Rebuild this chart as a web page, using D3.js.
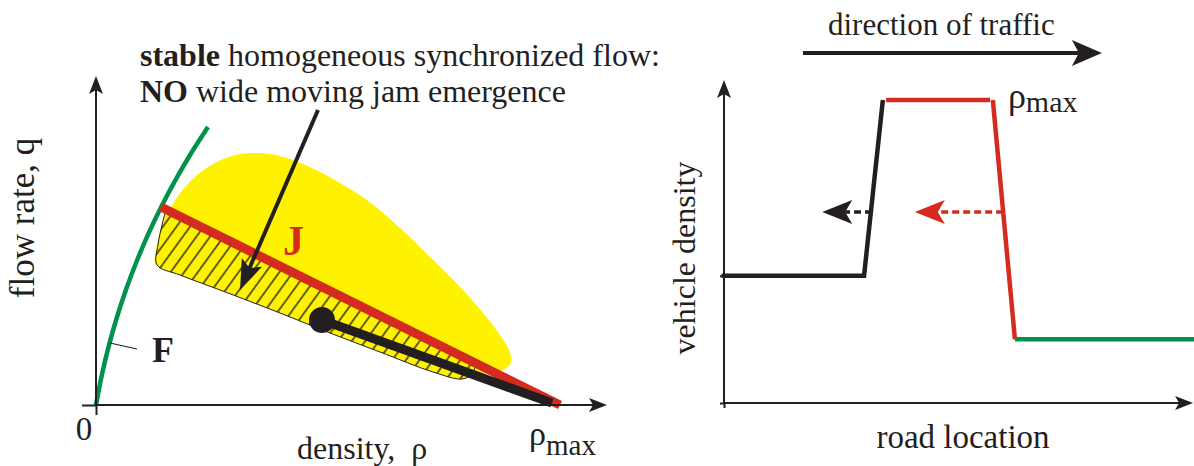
<!DOCTYPE html>
<html>
<head>
<meta charset="utf-8">
<script src="https://cdn.jsdelivr.net/npm/d3@7"></script>
<style>
  html, body { margin: 0; padding: 0; background: #fff; }
  svg { display: block; }
  text { font-family: "Liberation Serif", "Times New Roman", serif; fill: #231f20; white-space: pre; }
</style>
</head>
<body>
<svg id="chart" width="1194" height="466"></svg>
<script>
// ---------- Left panel: flow–density plane (arbitrary units) ----------
const rhoMax = 116;
// free-flow branch F
const freeFlowF = [[0,0],[1.45,14.9],[3.2,29.55],[5.25,44],[7.6,58.25],[10.25,72.25],[13.2,86.05],[16.45,99.6],
  [20,112.95],[23.85,126.1],[28,139]];
// line J (wide moving jam characteristic)
const lineJ = [[16.25,99],[rhoMax,0]];
// 2D region of synchronized flow states (yellow)
const syncRegion = [[14.75,71],[15.5,82.5],[17.5,93.5],[20.5,104.5],[24.75,114],[29.25,120.5],[34.75,125],[39,126],
  [43.5,125.5],[48.5,123],[56,116.5],[67.75,102.5],[76,88.5],[84.25,72.5],[91,59],[96.75,46],[101,35],[103.25,27.5],
  [103.75,21.5],[102.25,18],[98.5,16],[93.5,14],[91.5,13.5],[84.25,17],[71,27],[58.5,36.5],[46,46.5],[31,58],[21,65.5],[15.5,70]];
// stable homogeneous states below J (hatched): bottom edge, right to left, ending on J
const stableRegion = [[95,20.9],[94,15.5],[91.5,13],[84.25,16.5],[71,26.5],[58.5,36],[46,46],[31,57.5],[21,65],
  [15.25,70],[15.5,80],[16.5,90],[17.5,97.8]];
// state point and its line to ρmax
const statePoint = [56.5,42.5];
const stateLineEnd = [114,1];
// annotation arrow (from label to hatched region)
const noteArrow = [[55.5,147.5],[36,57.5]];
const labelJ = [46.75,75];
const labelF = [14,21.5];
const tickF = [[3.5,31],[10.25,28]];

// ---------- Right panel: density profile along the road (normalised) ----------
const rhoLevelUp = 0.42;     // upstream density
const rhoLevelDown = 0.21;   // downstream density
const profileBlack = [[-0.005,rhoLevelUp],[0.298,rhoLevelUp],[0.338,1]];
const profileRedTop = [[0.345,1],[0.566,1]];
const profileRedFront = [[0.572,1],[0.619,rhoLevelDown]];
const profileGreen = [[0.619,rhoLevelDown],[1.0,rhoLevelDown]];
const arrowBlackDash = [[0.315,0.63],[0.209,0.63]];
const arrowRedDash = [[0.594,0.63],[0.406,0.63]];
const trafficArrow = [[0.168,1.155],[0.804,1.155]];

const C = { black: "#231f20", red: "#d52b1e", green: "#00924a", yellow: "#fff200" };

const svg = d3.select("#chart");

// Scales
const xL = d3.scaleLinear().domain([0, rhoMax]).range([96, 560]);
const yL = d3.scaleLinear().domain([0, 139]).range([405, 127]);
const xR = d3.scaleLinear().domain([0, 1]).range([724, 1194]);
const yR = d3.scaleLinear().domain([0, 1]).range([403, 100]);

function arrowHead(tip, from, len, half, notch) {
  const dx = tip[0] - from[0], dy = tip[1] - from[1];
  const L = Math.hypot(dx, dy), ux = dx / L, uy = dy / L, px = -uy, py = ux;
  const bx = tip[0] - ux * len, by = tip[1] - uy * len;
  const nx = tip[0] - ux * (len - notch), ny = tip[1] - uy * (len - notch);
  return { d: `M${tip[0]},${tip[1]}L${bx + px * half},${by + py * half}L${nx},${ny}L${bx - px * half},${by - py * half}Z`, neck: [nx, ny] };
}
function drawArrow(g, from, tip, opt) {
  const h = arrowHead(tip, from, opt.len, opt.half, opt.notch);
  g.append("line").attr("x1", from[0]).attr("y1", from[1]).attr("x2", h.neck[0]).attr("y2", h.neck[1])
    .attr("stroke", opt.color).attr("stroke-width", opt.width).attr("stroke-dasharray", opt.dash || null);
  g.append("path").attr("d", h.d).attr("fill", opt.color);
}

// Hatch pattern for the stable states
const defs = svg.append("defs");
const pat = defs.append("pattern").attr("id", "hatch").attr("patternUnits", "userSpaceOnUse")
  .attr("width", 11).attr("height", 11).attr("patternTransform", "rotate(36)");
pat.append("rect").attr("width", 11).attr("height", 11).attr("fill", C.yellow);
pat.append("line").attr("x1", 1).attr("y1", -1).attr("x2", 1).attr("y2", 12).attr("stroke", C.black).attr("stroke-width", 1.4);

const left = svg.append("g");
const toPx = p => [xL(p[0]), yL(p[1])];

// synchronized flow region
left.append("path")
  .attr("d", d3.line().x(d => xL(d[0])).y(d => yL(d[1])).curve(d3.curveCatmullRomClosed.alpha(0.5))(syncRegion))
  .attr("fill", C.yellow);

// hatched stable region (straight top edge along J)
left.append("path")
  .attr("d", d3.line().x(d => xL(d[0])).y(d => yL(d[1])).curve(d3.curveCatmullRom.alpha(0.5))(stableRegion) + "Z")
  .attr("fill", "url(#hatch)").attr("stroke", C.black).attr("stroke-width", 1);

// free flow branch F
left.append("path")
  .attr("d", d3.line().x(d => xL(d[0])).y(d => yL(d[1])).curve(d3.curveCatmullRom.alpha(0.5))(freeFlowF))
  .attr("fill", "none").attr("stroke", C.green).attr("stroke-width", 4.5);

// line J
left.append("line")
  .attr("x1", xL(lineJ[0][0])).attr("y1", yL(lineJ[0][1])).attr("x2", xL(lineJ[1][0])).attr("y2", yL(lineJ[1][1]))
  .attr("stroke", C.red).attr("stroke-width", 9);

// state point and line towards ρmax
left.append("line")
  .attr("x1", xL(statePoint[0])).attr("y1", yL(statePoint[1])).attr("x2", xL(stateLineEnd[0])).attr("y2", yL(stateLineEnd[1]))
  .attr("stroke", C.black).attr("stroke-width", 9);
left.append("circle").attr("cx", xL(statePoint[0])).attr("cy", yL(statePoint[1])).attr("r", 13).attr("fill", C.black);

// annotation arrow
drawArrow(left, toPx(noteArrow[0]), toPx(noteArrow[1]), { len: 30, half: 11, notch: 6, color: C.black, width: 4 });

// F tick and labels
left.append("line").attr("x1", xL(tickF[0][0])).attr("y1", yL(tickF[0][1])).attr("x2", xL(tickF[1][0])).attr("y2", yL(tickF[1][1]))
  .attr("stroke", C.black).attr("stroke-width", 1.2);
left.append("text").attr("x", xL(labelF[0])).attr("y", yL(labelF[1])).attr("font-size", 36).attr("font-weight", "bold").text("F");
left.append("text").attr("x", xL(labelJ[0])).attr("y", yL(labelJ[1])).attr("font-size", 42).attr("font-weight", "bold")
  .style("fill", C.red).text("J");

// axes
const gxL = left.append("g").attr("transform", `translate(0,${yL(0)})`)
  .call(d3.axisBottom(xL).tickValues([0]).tickSize(10).tickFormat(""));
gxL.select(".domain").remove();
gxL.selectAll("line").attr("stroke", C.black).attr("stroke-width", 2);
const gyL = left.append("g").attr("transform", `translate(${xL(0)},0)`)
  .call(d3.axisLeft(yL).tickValues([0]).tickSize(14).tickFormat(""));
gyL.select(".domain").remove();
gyL.selectAll("line").attr("stroke", C.black).attr("stroke-width", 2);
drawArrow(left, [xL(0), yL(0)], [xL(127.75), yL(0)], { len: 18, half: 7, notch: 4, color: C.black, width: 2 });
drawArrow(left, [xL(0), yL(0)], [xL(0), yL(164.5)], { len: 18, half: 7, notch: 4, color: C.black, width: 2 });

// left texts
const t1 = left.append("text").attr("x", 140).attr("y", 66).attr("font-size", 32);
t1.append("tspan").attr("font-weight", "bold").text("stable");
t1.append("tspan").text(" homogeneous synchronized flow:");
const t2 = left.append("text").attr("x", 140).attr("y", 102).attr("font-size", 32);
t2.append("tspan").attr("font-weight", "bold").text("NO");
t2.append("tspan").text(" wide moving jam emergence");
left.append("text").attr("transform", "translate(34,218) rotate(-90)").attr("text-anchor", "middle").attr("font-size", 35).text("flow rate, q");
left.append("text").attr("x", 84).attr("y", 440).attr("text-anchor", "middle").attr("font-size", 33).text("0");
left.append("text").attr("x", 297).attr("y", 459).attr("font-size", 32).text("density,  ρ");
const rm = left.append("text").attr("x", xL(rhoMax) - 31).attr("y", 445).attr("font-size", 34);
rm.append("tspan").text("ρ");
rm.append("tspan").attr("dy", 10).attr("font-size", 29).text("max");

// ---------- right panel ----------
const right = svg.append("g");
const toR = p => [xR(p[0]), yR(p[1])];
const lineR = d3.line().x(d => xR(d[0])).y(d => yR(d[1]));

right.append("path").attr("d", lineR(profileBlack)).attr("fill", "none").attr("stroke", C.black).attr("stroke-width", 4.5);
right.append("path").attr("d", lineR(profileRedTop)).attr("fill", "none").attr("stroke", C.red).attr("stroke-width", 4.5);
right.append("path").attr("d", lineR(profileRedFront)).attr("fill", "none").attr("stroke", C.red).attr("stroke-width", 4.5);
right.append("path").attr("d", lineR(profileGreen)).attr("fill", "none").attr("stroke", C.green).attr("stroke-width", 4.5);

drawArrow(right, toR(arrowBlackDash[0]), toR(arrowBlackDash[1]), { len: 30, half: 12, notch: 7, color: C.black, width: 3.5, dash: "7,4" });
drawArrow(right, toR(arrowRedDash[0]), toR(arrowRedDash[1]), { len: 30, half: 12, notch: 7, color: C.red, width: 3.5, dash: "7,4" });
drawArrow(right, toR(trafficArrow[0]), toR(trafficArrow[1]), { len: 30, half: 13, notch: 7, color: C.black, width: 4 });

const gxR = right.append("g").attr("transform", `translate(0,${yR(0)})`)
  .call(d3.axisBottom(xR).tickValues([0]).tickSize(5).tickFormat(""));
gxR.select(".domain").remove();
gxR.selectAll("line").attr("stroke", C.black).attr("stroke-width", 2);
const gyR = right.append("g").attr("transform", `translate(${xR(0)},0)`)
  .call(d3.axisLeft(yR).tickValues([0, rhoLevelUp]).tickSize(4).tickFormat(""));
gyR.select(".domain").remove();
gyR.selectAll("line").attr("stroke", C.black).attr("stroke-width", 2);
drawArrow(right, [xR(0), yR(0)], [xR(0.998), yR(0)], { len: 18, half: 7, notch: 4, color: C.black, width: 2 });
drawArrow(right, [xR(0), yR(0)], [xR(0), yR(1.066)], { len: 18, half: 7, notch: 4, color: C.black, width: 2 });

right.append("text").attr("x", 828).attr("y", 35).attr("font-size", 31).text("direction of traffic");
right.append("text").attr("transform", "translate(695,258) rotate(-90)").attr("text-anchor", "middle").attr("font-size", 32).text("vehicle density");
right.append("text").attr("x", 963).attr("y", 448).attr("text-anchor", "middle").attr("font-size", 33).text("road location");
const rr = right.append("text").attr("x", xR(0.604)).attr("y", 108).attr("font-size", 36);
rr.append("tspan").text("ρ");
rr.append("tspan").attr("dy", 4).attr("font-size", 30).text("max");
</script>
</body>
</html>
